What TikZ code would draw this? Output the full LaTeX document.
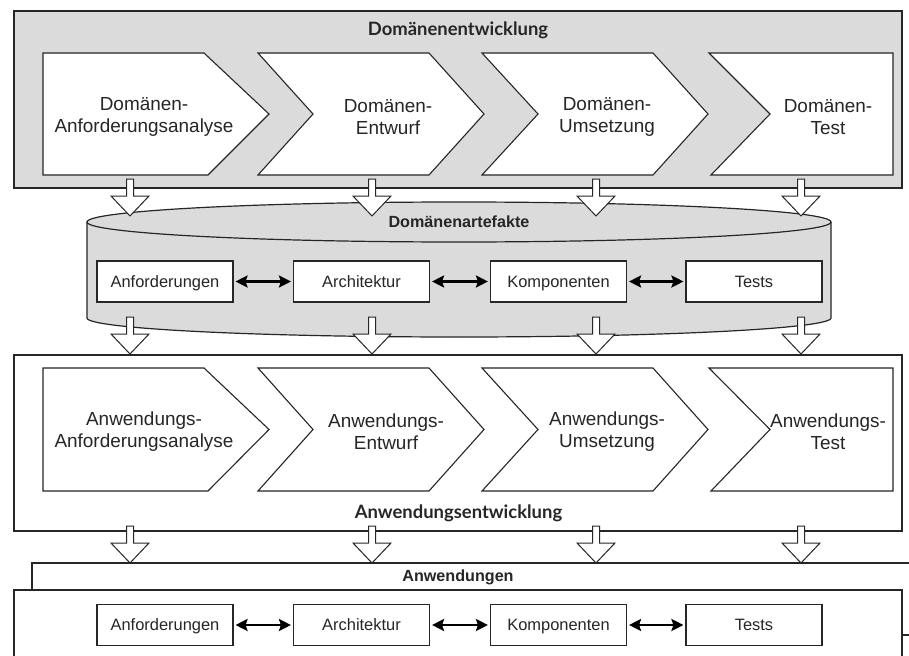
\documentclass[tikz,border=0pt]{standalone}
\usepackage{fontspec}
\setmainfont{Liberation Sans}
\newfontfamily\titlefont{Lato}
\usetikzlibrary{arrows.meta}

\tikzset{
  ink/.style={draw=black!85},
  frame/.style={ink, line width=1.2bp},
  graybg/.style={fill=black!14},
  chev/.style={ink, line width=1.1bp, fill=white},
  artbox/.style={ink, line width=1.1bp, fill=white, minimum width=136bp,
    minimum height=41bp, inner sep=0pt, text=black!85,
    text height=12bp, text depth=1bp,
    font=\fontsize{16.5}{19}\selectfont},
  chevtext/.style={align=center, inner sep=0pt, text=black!85,
    font=\fontsize{19}{22}\selectfont},
  blockarrow/.style={ink, line width=1bp, fill=white, line join=miter},
  dbl/.style={line width=2.6bp, black,
    {Stealth[length=12bp,width=12bp,inset=2bp]}-{Stealth[length=12bp,width=12bp,inset=2bp]},
    shorten >=2bp, shorten <=2bp},
  bigtitle/.style={inner sep=0pt, text=black!85,
    font=\titlefont\bfseries\fontsize{18.5}{21}\selectfont},
  subtitle/.style={inner sep=0pt, text=black!85,
    font=\bfseries\fontsize{16.2}{19}\selectfont}
}

% four process chevrons between the rows top/mid/bottom
\newcommand{\chevronrow}[3]{%
  \draw[chev] (43,#1) -- (204,#1) -- (269,#2) -- (208,#3) -- (43,#3) -- cycle;
  \draw[chev] (258,#1) -- (429,#1) -- (484,#2) -- (429,#3) -- (258,#3) -- (313,#2) -- cycle;
  \draw[chev] (482,#1) -- (653,#1) -- (708,#2) -- (653,#3) -- (482,#3) -- (538,#2) -- cycle;
  \draw[chev] (709,#1) -- (893,#1) -- (893,#3) -- (711,#3) -- (770,#2) -- cycle;
}

% hollow block arrow pointing down: centre x, top of shaft
\newcommand{\blockdown}[2]{%
  \draw[blockarrow] (#1-3.5,#2) -- (#1-3.5,#2+17) -- (#1-19,#2+17) -- (#1,#2+37)
    -- (#1+19,#2+17) -- (#1+3.5,#2+17) -- (#1+3.5,#2) -- cycle;
}
\newcommand{\blockrow}[1]{%
  \foreach \bx in {130,372,596,801} {\blockdown{\bx}{#1}}
}

\begin{document}
\begin{tikzpicture}[x=1bp,y=-1bp]
\clip (0,0) rectangle (909,656);
\fill[white] (0,0) rectangle (909,656);

% ---------- domain engineering ----------
\draw[frame, graybg] (14,11) rectangle (902,188);
\node[bigtitle] (dtitle) at (458,30) {Domänenentwicklung};
\chevronrow{53}{114}{175}
\node[chevtext] (dz1) at (144,117) {Domänen-\\Anforderungsanalyse};
\node[chevtext] (dz2) at (388,117) {Domänen-\\Entwurf};
\node[chevtext] (dz3) at (607,117) {Domänen-\\Umsetzung};
\node[chevtext] (dz4) at (828,117) {Domänen-\\Test};

% ---------- domain artefacts (cylinder) ----------
\fill[graybg] (87,222) -- (87,318) arc[start angle=180,end angle=0,x radius=372,y radius=19] -- (831,222) -- cycle;
\draw[frame] (87,222) -- (87,318) arc[start angle=180,end angle=0,x radius=372,y radius=19] -- (831,222);
\draw[frame, graybg] (459,222) ellipse[x radius=372, y radius=20];
\node[subtitle] (dart) at (459,222) {Domänenartefakte};

\node[artbox] (da1) at (165,281.5) {Anforderungen};
\node[artbox] (da2) at (361.5,281.5) {Architektur};
\node[artbox] (da3) at (558.5,281.5) {Komponenten};
\node[artbox] (da4) at (754,281.5) {Tests};
\draw[dbl] (da1) -- (da2);
\draw[dbl] (da2) -- (da3);
\draw[dbl] (da3) -- (da4);

\blockrow{179}
\blockrow{317}

% ---------- application engineering ----------
\draw[frame, fill=white] (14,355) rectangle (902,531);
\chevronrow{368}{429.5}{491}
\node[chevtext] (az1) at (144,432) {Anwendungs-\\Anforderungsanalyse};
\node[chevtext] (az2) at (386,432) {Anwendungs-\\Entwurf};
\node[chevtext] (az3) at (607,432) {Anwendungs-\\Umsetzung};
\node[chevtext] (az4) at (828,432) {Anwendungs-\\Test};
\node[bigtitle] (atitle) at (458.5,513) {Anwendungsentwicklung};

\blockrow{526}

% ---------- applications ----------
\draw[frame, fill=white] (32,590) -- (32,563) -- (915,563) -- (915,590);
\node[subtitle] (apps) at (458,577) {Anwendungen};
\draw[frame, fill=white] (14,660) -- (14,590) -- (902,590) -- (902,660);
\draw[frame] (902,635) -- (915,635);

\node[artbox] (aa1) at (165,625) {Anforderungen};
\node[artbox] (aa2) at (361.5,625) {Architektur};
\node[artbox] (aa3) at (558.5,625) {Komponenten};
\node[artbox] (aa4) at (754,625) {Tests};
\draw[dbl] (aa1) -- (aa2);
\draw[dbl] (aa2) -- (aa3);
\draw[dbl] (aa3) -- (aa4);
\end{tikzpicture}
\end{document}
